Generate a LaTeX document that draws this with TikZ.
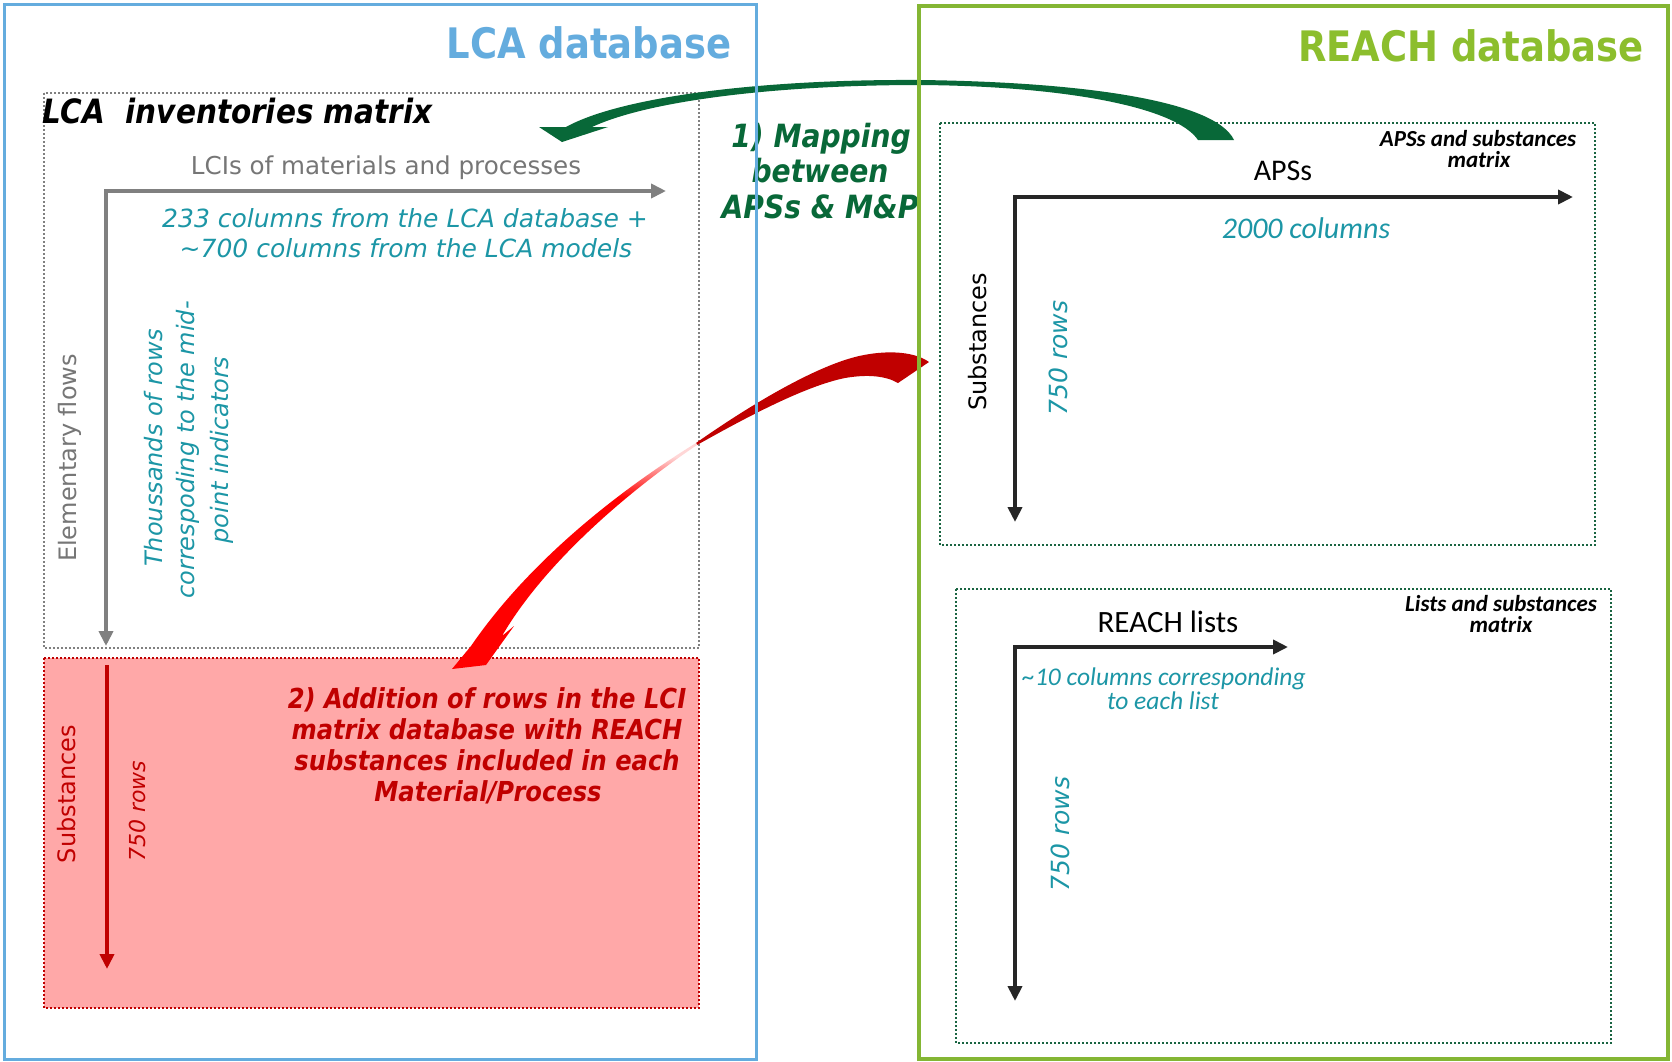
\documentclass[tikz,border=0pt]{standalone}
\usepackage{fontspec}
\usetikzlibrary{arrows.meta}
\setmainfont{DejaVu Sans}
\newfontfamily\verdfont{DejaVu Sans}
\newfontfamily\tahfont{DejaVu Sans}[FakeStretch=0.88]
\newfontfamily\calfont{Carlito}
\newcommand\fsz[2]{\fontsize{#1}{#2}\selectfont}

\definecolor{lcablue}{RGB}{100,172,222}
\definecolor{framegreen}{RGB}{132,182,52}
\definecolor{titlegreen}{RGB}{140,190,45}
\definecolor{mapgreen}{RGB}{8,104,56}
\definecolor{boxgreen}{RGB}{25,100,65}
\definecolor{tealtext}{RGB}{28,150,166}
\definecolor{axisgrey}{RGB}{128,128,128}
\definecolor{greytext}{RGB}{118,118,118}
\definecolor{axisblack}{RGB}{38,38,38}
\definecolor{pinkfill}{RGB}{255,168,168}
\definecolor{darkred}{RGB}{192,0,0}
\definecolor{brightred}{RGB}{255,0,0}
\definecolor{palered}{RGB}{255,215,215}

% red arrow head: solid red that pales towards its thin upper end
\pgfdeclareverticalshading{redfade}{100bp}{color(0bp)=(brightred); color(63bp)=(brightred); color(72bp)=(palered); color(100bp)=(palered)}

\tikzset{
  txt/.style={inner sep=0pt, outer sep=0pt},
  dbtitle/.style={txt, anchor=base, font=\tahfont\bfseries\fsz{42}{50}},
  heavy/.style={txt, anchor=base, font=\tahfont\bfseries\itshape\fsz{32}{38}},
  addtxt/.style={txt, anchor=base, text=darkred, font=\tahfont\bfseries\itshape\fsz{27.5}{33}},
  verd/.style={txt, font=\verdfont\fsz{24}{29}},
  verdit/.style={txt, font=\verdfont\itshape\fsz{25}{30}, text=tealtext},
  vert/.style={rotate=90},
  calreg/.style={txt, anchor=base, font=\calfont\fsz{30}{36}},
  calit/.style={txt, anchor=base, font=\calfont\itshape\fsz{30}{36}, text=tealtext},
  calsmall/.style={txt, anchor=base, font=\calfont\itshape\fsz{25.5}{30}, text=tealtext},
  mtxlabel/.style={txt, anchor=base, font=\calfont\bfseries\itshape\fsz{23}{27}},
  axtip/.style={-{Triangle[length=15pt,width=14pt]}},
  axgrey/.style={draw=axisgrey, line width=4.5pt, line join=miter},
  axblack/.style={draw=axisblack, line width=4.5pt, line join=miter},
  axred/.style={draw=darkred, line width=4pt},
  greydots/.style={draw=axisgrey, line width=2pt, dash pattern=on 2pt off 2pt},
  greendots/.style={draw=boxgreen, line width=2pt, dash pattern=on 2pt off 2pt},
  reddots/.style={draw=darkred, line width=2pt, dash pattern=on 2pt off 2pt},
}

\begin{document}
\begin{tikzpicture}[x=1pt,y=-1pt]
\useasboundingbox (0,0) rectangle (1672,1061);
\fill[white] (0,0) rectangle (1672,1061);

% ---------- LCA side: matrix boxes ----------
\fill[pinkfill] (44,658) rectangle (699,1008);
\draw[reddots] (44,658) rectangle (699,1008);
\draw[greydots] (44,93) rectangle (699,648);

% ---------- REACH side: matrix boxes ----------
\draw[greendots] (940,123) rectangle (1595,545);
\draw[greendots] (956,589) rectangle (1611,1043);

% ---------- axes ----------
\coordinate (lcaO) at (106,191);
\coordinate (lcaX) at (666,191);
\coordinate (lcaY) at (106,646);
\draw[axgrey, {Triangle[length=15pt,width=14pt]}-{Triangle[length=15pt,width=14pt]}] (lcaX) -- (lcaO) -- (lcaY);

\coordinate (redTop) at (107,665);
\coordinate (redBot) at (107,969);
\draw[axred, axtip] (redTop) -- (redBot);

\coordinate (apsO) at (1015,197);
\coordinate (apsX) at (1573,197);
\coordinate (apsY) at (1015,522);
\draw[axblack, {Triangle[length=15pt,width=14pt]}-{Triangle[length=15pt,width=14pt]}] (apsX) -- (apsO) -- (apsY);

\coordinate (lstO) at (1015,647);
\coordinate (lstX) at (1288,647);
\coordinate (lstY) at (1015,1001);
\draw[axblack, {Triangle[length=15pt,width=14pt]}-{Triangle[length=15pt,width=14pt]}] (lstX) -- (lstO) -- (lstY);

% ---------- titles ----------
\node[dbtitle, text=lcablue] (lcatitle) at (589,58) {LCA database};
\node[dbtitle, text=titlegreen] (reachtitle) at (1471,61) {REACH database};

% ---------- LCA inventories matrix ----------
\node[heavy, anchor=base west, font=\tahfont\bfseries\itshape\fsz{33.5}{40}] (invtitle) at (42,123) {LCA\ \ inventories matrix};
\node[verd, anchor=base, text=greytext, font=\verdfont\fsz{24.6}{29}] (lcis) at (386,174) {LCIs of materials and processes};
\node[verdit, anchor=base] (cols1) at (405,227) {233 columns from the LCA database +};
\node[verdit, anchor=base] (cols2) at (406,257) {\textasciitilde 700 columns from the LCA models};
\node[verd, vert, text=greytext] (elemflows) at (70,458) {Elementary flows};
\node[verdit, vert, font=\verdfont\itshape\fsz{24}{29}] (thous1) at (154,448) {Thoussands of rows};
\node[verdit, vert, font=\verdfont\itshape\fsz{24}{29}] (thous2) at (188,450) {correspoding to the mid-};
\node[verdit, vert, font=\verdfont\itshape\fsz{24}{29}] (thous3) at (222,450) {point indicators};

% ---------- added substances block ----------
\node[verd, vert, text=darkred] (redsubst) at (67,794) {Substances};
\node[verd, vert, text=darkred, font=\verdfont\itshape\fsz{22}{27}] (redrows) at (137,811) {750 rows};
\node[addtxt] (add1) at (487,708) {2) Addition of rows in the LCI};
\node[addtxt] (add2) at (487,739) {matrix database with REACH};
\node[addtxt] (add3) at (487,770) {substances included in each};
\node[addtxt] (add4) at (488,801) {Material/Process};

% ---------- mapping label ----------
\node[heavy, text=mapgreen] (map1) at (821,147) {1) Mapping};
\node[heavy, text=mapgreen] (map2) at (820,182) {between};
\node[heavy, text=mapgreen] (map3) at (820,218) {APSs \& M\&P};

% ---------- APSs and substances matrix ----------
\node[mtxlabel] (apsm1) at (1478,146) {APSs and substances};
\node[mtxlabel] (apsm2) at (1479,167) {matrix};
\node[calreg] (apslab) at (1283,180) {APSs};
\node[calit] (apscols) at (1306,238) {2000 columns};
\node[verd, vert] (apsubst) at (978,342) {Substances};
\node[verdit, vert] (aprows) at (1058,358) {750 rows};

% ---------- Lists and substances matrix ----------
\node[mtxlabel] (lstm1) at (1501,611) {Lists and substances};
\node[mtxlabel] (lstm2) at (1501,632) {matrix};
\node[calreg, font=\calfont\fsz{31}{37}] (reachlists) at (1168,632) {REACH lists};
\node[calsmall] (lstcols1) at (1164,685) {\textasciitilde 10 columns corresponding};
\node[calsmall] (lstcols2) at (1163,709) {to each list};
\node[verdit, vert] (lstrows) at (1060,834) {750 rows};

% ---------- curved arrow 1: mapping ----------
\fill[mapgreen]
  (1234,140) .. controls (1215,100) and (1080,82) .. (920,80)
  .. controls (760,79) and (620,97) .. (566,127)
  -- (539,127) -- (562,142) -- (608,127) -- (592,127)
  .. controls (650,100) and (780,85) .. (920,85)
  .. controls (1060,86) and (1175,106) .. (1198,140)
  -- cycle;

% ---------- curved arrow 2: addition of rows ----------
\fill[darkred]
  (929,362) .. controls (915,352) and (890,350) .. (864,355)
  .. controls (820,363) and (750,405) .. (696,443)
  -- (697,445)
  .. controls (745,418) and (805,386) .. (845,378)
  .. controls (868,374) and (886,376) .. (898,383)
  -- cycle;
\shade[shading=redfade]
  (696,443) .. controls (620,490) and (530,560) .. (471,646)
  -- (452,669) -- (486,665) -- (514,626) -- (502,636)
  .. controls (545,562) and (630,490) .. (697,445)
  -- cycle;

% ---------- database frames ----------
\draw[lcablue, line width=3pt] (4,4) rectangle (756,1059);
\draw[framegreen, line width=3.5pt] (919,6) rectangle (1668,1059);
\end{tikzpicture}
\end{document}
